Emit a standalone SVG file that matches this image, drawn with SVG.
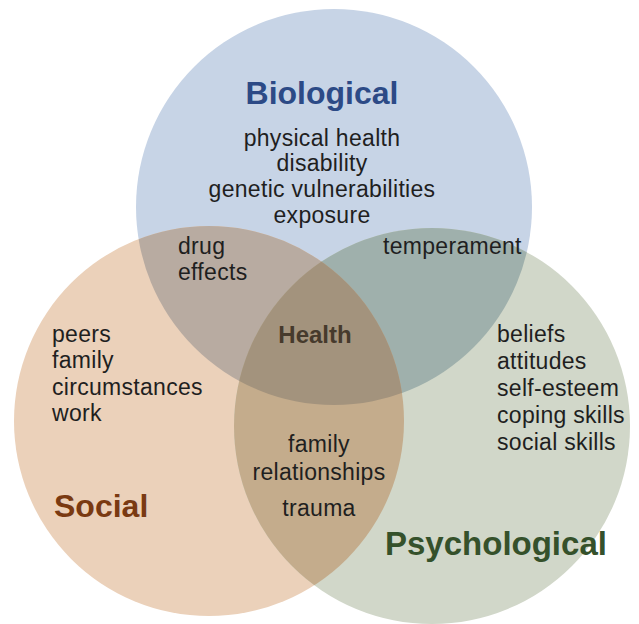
<svg xmlns="http://www.w3.org/2000/svg" width="639" height="624" viewBox="0 0 639 624">
<style>
.t{font-family:"Liberation Sans",Arial,sans-serif;font-size:23px;letter-spacing:0.3px;fill:#1f1f1f}
.c{text-anchor:middle}
.h{font-family:"Liberation Sans",Arial,sans-serif;font-weight:bold}
</style>
<defs>
<clipPath id="cBio"><circle cx="334" cy="207" r="198"/></clipPath>
<clipPath id="cSoc"><circle cx="209" cy="421" r="195"/></clipPath>
<clipPath id="cPsy"><circle cx="432" cy="426" r="198"/></clipPath>
</defs>
<rect width="639" height="624" fill="#ffffff"/>
<g id="circles">
<circle id="bio-circle" cx="334" cy="207" r="198" fill="#c7d4e6"/>
<circle id="soc-circle" cx="209" cy="421" r="195" fill="#ebd1ba"/>
<circle id="psy-circle" cx="432" cy="426" r="198" fill="#d1d7c9"/>
<g clip-path="url(#cBio)">
<circle cx="209" cy="421" r="195" fill="#b8aba1"/>
<circle cx="432" cy="426" r="198" fill="#9fb0ac"/>
</g>
<g clip-path="url(#cSoc)">
<circle cx="432" cy="426" r="198" fill="#c4ac8c"/>
<g clip-path="url(#cBio)"><circle cx="432" cy="426" r="198" fill="#a3937d"/></g>
</g>
</g>
<g id="biological">
<text class="h c" x="322" y="104" font-size="32" fill="#2c4a86">Biological</text>
<text class="t c" x="322" y="146">physical health</text>
<text class="t c" x="322" y="171">disability</text>
<text class="t c" x="322" y="197">genetic vulnerabilities</text>
<text class="t c" x="322" y="223">exposure</text>
</g>
<g id="bio-social">
<text class="t" x="178" y="254">drug</text>
<text class="t" x="178" y="280">effects</text>
</g>
<g id="bio-psych">
<text class="t" x="383" y="254">temperament</text>
</g>
<g id="health">
<text class="h c" x="315" y="343" font-size="24" fill="#463a2c">Health</text>
</g>
<g id="social">
<text class="t" x="52" y="342">peers</text>
<text class="t" x="52" y="368">family</text>
<text class="t" x="52" y="395">circumstances</text>
<text class="t" x="52" y="421">work</text>
<text class="h" x="54" y="517" font-size="32" fill="#7a3a12">Social</text>
</g>
<g id="social-psych">
<text class="t c" x="319" y="452">family</text>
<text class="t c" x="319" y="480">relationships</text>
<text class="t c" x="319" y="516">trauma</text>
</g>
<g id="psychological">
<text class="t" x="497" y="342">beliefs</text>
<text class="t" x="497" y="369">attitudes</text>
<text class="t" x="497" y="396">self-esteem</text>
<text class="t" x="497" y="423">coping skills</text>
<text class="t" x="497" y="450">social skills</text>
<text class="h" x="385" y="555" font-size="33" fill="#35512b">Psychological</text>
</g>
</svg>
